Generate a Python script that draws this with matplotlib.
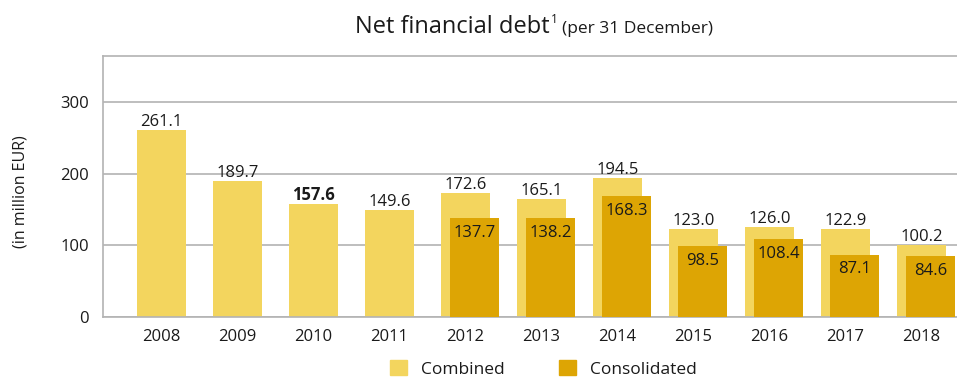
import matplotlib.pyplot as plt
from matplotlib.patches import Patch
import numpy as np

plt.rcParams['font.family'] = ['Open Sans', 'DejaVu Sans']

# ----------------------------

years = ["2008", "2009", "2010", "2011", "2012", "2013", "2014", "2015", "2016", "2017", "2018"]

combined = [261.1, 189.7, 157.6, 149.6, 172.6, 165.1, 194.5, 123.0, 126.0, 122.9, 100.2]

# consolidated figures start in 2012
consolidated_years = ["2012", "2013", "2014", "2015", "2016", "2017", "2018"]
consolidated = [137.7, 138.2, 168.3, 98.5, 108.4, 87.1, 84.6]

# ----------------------------

C_COMB = "#F3D55E"
C_CONS = "#DDA504"
GRID = "#b3b3b3"
TXT = "#1a1a1a"

fig = plt.figure(figsize=(9.57, 3.8), dpi=100)
ax = fig.add_axes([0.1076, 0.1658, 0.8924, 0.6868])

x = np.arange(len(years))
xc = np.array([years.index(y) for y in consolidated_years]) + 0.12

bars1 = ax.bar(x, combined, width=0.65, color=C_COMB, zorder=2)
bars2 = ax.bar(xc, consolidated, width=0.65, color=C_CONS, zorder=3)

for b, v in zip(bars1, combined):
    ax.annotate(f"{v:.1f}", (b.get_x() + b.get_width() / 2, v),
                xytext=(0, 0), textcoords="offset points",
                ha="center", va="bottom", fontsize=12, color=TXT,
                fontweight="bold" if v == 157.6 else "normal", zorder=4)

for b, v in zip(bars2, consolidated):
    ax.annotate(f"{v:.1f}", (b.get_x() + b.get_width() / 2, v),
                xytext=(0, -5), textcoords="offset points",
                ha="center", va="top", fontsize=12, color=TXT, zorder=4)

ax.set_xlim(-0.77, 10.47)
ax.set_ylim(0, 364)
ax.set_yticks([0, 100, 200, 300])
ax.set_xticks(x)
ax.set_xticklabels(years)
ax.tick_params(axis="both", length=0, labelsize=12, colors=TXT)
ax.tick_params(axis="x", pad=9)
ax.tick_params(axis="y", pad=10)

ax.yaxis.grid(True, color=GRID, lw=1.2, zorder=0)
ax.set_axisbelow(True)
for s in ["left", "top", "bottom"]:
    ax.spines[s].set_color(GRID)
    ax.spines[s].set_linewidth(1.2)
ax.spines["right"].set_visible(False)

fig.text(0.021, 0.497, "(in million EUR)", rotation=90, ha="center", va="center",
         fontsize=11.5, color=TXT)

# title in three pieces: main text, superscript, small note
renderer = fig.canvas.get_renderer()
t1 = fig.text(355 / 957, 1 - 33 / 380, "Net financial debt", fontsize=17,
              ha="left", va="baseline", color=TXT)
bb = t1.get_window_extent(renderer)
x1 = bb.x1 / fig.bbox.width
t2 = fig.text(x1 + 0.001, 1 - 23 / 380, "1", fontsize=8.5, ha="left", va="baseline", color=TXT)
bb2 = t2.get_window_extent(renderer)
x2 = bb2.x1 / fig.bbox.width
fig.text(x2 + 0.005, 1 - 33 / 380, "(per 31 December)", fontsize=12.5,
         ha="left", va="baseline", color=TXT)

handles = [Patch(color=C_COMB, label="Combined"), Patch(color=C_CONS, label="Consolidated")]
fig.legend(handles=handles, loc="lower center", bbox_to_anchor=(0.568, -0.035), ncol=2,
           frameon=False, fontsize=12.5, handlelength=1.0, handleheight=1.0,
           columnspacing=3.1, handletextpad=0.8, labelcolor=TXT)

plt.savefig("out.png", dpi=100)
